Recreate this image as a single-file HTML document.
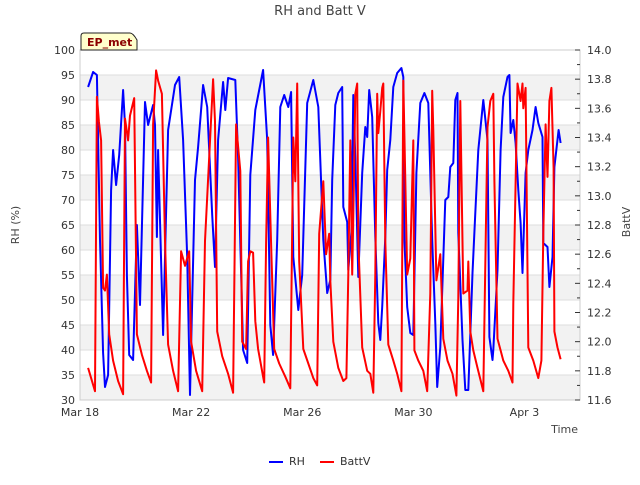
<!DOCTYPE html>
<html><head><meta charset="utf-8"><style>
body{margin:0;background:#fff;}
svg text{font-family:"DejaVu Sans","Liberation Sans",sans-serif;}
</style></head><body>
<svg id="chart" width="640" height="480" xmlns="http://www.w3.org/2000/svg">
<rect width="640" height="480" fill="#fff"/>
<text x="320" y="15" text-anchor="middle" font-size="13" fill="#444">RH and Batt V</text>
<g id="bands"></g>
<g id="grid"></g>
<g id="series"></g>
<rect x="80" y="50" width="500" height="350" fill="none" stroke="#ccc"/>
<g id="axes"></g>
<text transform="translate(19,225) rotate(-90)" text-anchor="middle" font-size="11" fill="#444">RH (%)</text>
<text transform="translate(630,222) rotate(-90)" text-anchor="middle" font-size="11" fill="#444">BattV</text>
<text x="578" y="433" text-anchor="end" font-size="11" fill="#444">Time</text>
<g>
<path d="M81 50 V36 Q81 33 84 33 H130 Q133 33 137 40 V50 Z" fill="#ffffcc" stroke="#222"/>
<text x="87" y="46" font-size="11" font-weight="bold" fill="#8b0000">EP_met</text>
</g>
<g>
<line x1="269" y1="462" x2="283" y2="462" stroke="#0000ff" stroke-width="2"/>
<text x="289" y="465" font-size="11" fill="#333">RH</text>
<line x1="320" y1="462" x2="334" y2="462" stroke="#ff0000" stroke-width="2"/>
<text x="340" y="465" font-size="11" fill="#333">BattV</text>
</g>
</svg>
<script>
const rhDays=[0.29,0.47,0.61,0.72,0.83,0.90,1.01,1.12,1.19,1.30,1.41,1.55,1.62,1.69,1.77,1.91,2.05,2.16,2.34,2.45,2.63,2.70,2.77,2.81,2.99,3.17,3.42,3.57,3.71,3.86,3.96,4.14,4.25,4.43,4.58,4.76,4.86,4.97,5.15,5.23,5.33,5.59,5.69,5.87,6.02,6.13,6.31,6.59,6.74,6.85,6.95,7.10,7.21,7.35,7.50,7.60,7.68,7.86,8.00,8.18,8.40,8.58,8.76,8.90,9.01,9.08,9.19,9.30,9.44,9.48,9.62,9.66,9.77,9.84,9.91,10.02,10.16,10.27,10.34,10.41,10.52,10.63,10.74,10.81,10.88,10.99,11.06,11.17,11.28,11.42,11.57,11.64,11.68,11.78,11.89,12.00,12.11,12.25,12.40,12.54,12.68,12.79,12.86,12.97,13.15,13.26,13.33,13.44,13.51,13.59,13.62,13.77,13.87,13.98,14.13,14.23,14.34,14.52,14.67,14.74,14.85,14.88,15.03,15.14,15.24,15.39,15.46,15.50,15.60,15.68,15.78,15.86,15.93,16.04,16.14,16.29,16.40,16.50,16.65,16.68,16.83,16.90,17.01,17.08,17.23,17.30];
const rhValues=[92.6,95.6,95,62,39.4,32.6,35,72,80,73,79,92,85,55,39,38,65,49,89.6,85,89,85,62.6,80,43,84,93,94.6,82,58.6,31,74,80.6,93,88.6,67,56.6,82,93.6,88,94.4,94,78.6,40,37.4,75,88,96,82,45,39,62,88.6,91,88.6,91.6,58.6,48,55,89.4,94,88.6,62,51.4,54,74,89,91.4,92.6,68.6,65.6,56,63.6,91,78.6,54.6,75.4,84.6,82.6,92,86.6,62.6,45.4,42,48.6,62.6,76,82,92.6,95.4,96.4,94.6,62,48.6,43.4,43,75.4,89.4,91.4,89.4,62,45.4,32.6,40.6,70,70.6,76.6,77.4,90,91.4,63.4,42,32,32,55.4,67.4,80,90,82,42.6,38,40,56,80,90.6,94.6,95,83.4,86,81.4,72,65.4,55.4,75.4,80,84,88.6,85.4,82.6,61.4,60.6,52.6,58.6,76.6,84,81.4];
const bvDays=[0.29,0.54,0.61,0.68,0.76,0.83,0.90,0.97,1.05,1.19,1.37,1.55,1.62,1.73,1.80,1.95,2.05,2.23,2.41,2.56,2.63,2.74,2.81,2.95,3.06,3.17,3.35,3.53,3.64,3.78,3.93,4.00,4.18,4.40,4.50,4.79,4.86,4.94,5.12,5.33,5.51,5.62,5.77,5.84,5.98,6.05,6.13,6.23,6.31,6.41,6.59,6.63,6.70,6.77,6.88,6.99,7.17,7.39,7.57,7.68,7.75,7.82,7.89,8.04,8.22,8.40,8.54,8.61,8.76,8.86,8.97,9.01,9.12,9.30,9.48,9.59,9.66,9.73,9.80,9.84,9.91,9.98,10.02,10.16,10.34,10.45,10.56,10.63,10.70,10.74,10.81,10.88,10.92,10.99,11.10,11.28,11.42,11.57,11.64,11.78,11.89,12.00,12.04,12.18,12.36,12.50,12.61,12.68,12.72,12.83,12.97,13.08,13.23,13.41,13.55,13.62,13.69,13.80,13.95,13.98,14.05,14.16,14.31,14.52,14.67,14.77,14.88,14.92,15.03,15.14,15.24,15.42,15.57,15.60,15.75,15.86,15.93,15.96,16.04,16.14,16.32,16.50,16.61,16.68,16.76,16.83,16.90,16.97,17.05,17.08,17.19,17.30];
const bvValues=[11.82,11.66,13.68,13.51,13.38,12.37,12.35,12.46,12.05,11.87,11.73,11.64,13.53,13.38,13.55,13.67,12.05,11.91,11.80,11.72,13.49,13.86,13.79,13.70,12.69,11.98,11.80,11.66,12.62,12.52,12.62,12.00,11.80,11.66,12.69,13.80,13.51,12.07,11.90,11.78,11.65,13.49,13.17,12.00,11.95,12.55,12.62,12.61,12.14,11.95,11.76,11.72,12.68,13.40,12.67,11.95,11.85,11.76,11.68,13.40,13.10,13.77,12.55,11.95,11.85,11.75,11.70,12.74,13.10,12.60,12.74,12.42,12.00,11.82,11.73,11.75,12.46,13.38,12.46,12.85,13.70,13.77,12.69,11.96,11.80,11.78,11.65,12.46,13.70,13.43,13.58,13.74,13.77,12.69,11.98,11.87,11.78,11.66,13.79,12.46,12.57,13.38,11.94,11.87,11.80,11.66,12.33,13.72,13.45,12.42,12.60,12.02,11.87,11.78,11.63,12.30,13.65,12.33,12.35,12.55,12.07,11.94,11.82,11.66,13.47,13.65,13.70,13.10,12.02,11.94,11.87,11.80,11.72,12.26,13.77,13.65,13.77,13.60,13.74,11.96,11.87,11.75,11.87,12.74,13.49,13.13,13.65,13.74,13.19,12.07,11.96,11.88];
const rhTicks=[30,35,40,45,50,55,60,65,70,75,80,85,90,95,100];
const bvTicks=[11.6,11.8,12.0,12.2,12.4,12.6,12.8,13.0,13.2,13.4,13.6,13.8,14.0];
const xTickDays=[0,4,8,12,16];
const xTickLabels=["Mar 18","Mar 22","Mar 26","Mar 30","Apr 3"];

const NS="http://www.w3.org/2000/svg";
const X0=80,X1=580,Y0=400,Y1=50;
function xs(d){return X0+d*(X1-X0)/18;}
function ys(v){return Y0-(v-30)*(Y0-Y1)/70;}
function ys2(v){return Y0-(v-11.6)*(Y0-Y1)/2.4;}
function mk(tag,attrs,parent){const e=document.createElementNS(NS,tag);for(const k in attrs)e.setAttribute(k,attrs[k]);parent.appendChild(e);return e;}
const bands=document.getElementById('bands'),grid=document.getElementById('grid'),axes=document.getElementById('axes'),series=document.getElementById('series');
for(let i=0;i<rhTicks.length-1;i++){
  const a=rhTicks[i],b=rhTicks[i+1];
  if(i%2===0){const r=mk('rect',{x:X0,y:ys(b),width:X1-X0,height:ys(a)-ys(b),fill:'#f2f2f2'},bands);
  
  }
}
rhTicks.forEach(v=>{
  const l=mk('line',{x1:X0,x2:X1,y1:ys(v),y2:ys(v),stroke:'#ddd'},grid);
  
  
  const t=mk('text',{x:X0-5,y:ys(v)+4,'text-anchor':'end','font-size':'11',fill:'#333'},axes);
  t.textContent=v;
  
  
});
bvTicks.forEach(v=>{
  const t=mk('text',{x:X1+7,y:ys2(v)+4,'font-size':'11',fill:'#333'},axes);
  t.textContent=v.toFixed(1);
  
  
  const tk=mk('line',{x1:X1-5,x2:X1,y1:ys2(v),y2:ys2(v),stroke:'#333'},axes);
  
  
});
for(let i=0;i<bvTicks.length-1;i++){
  const m=(bvTicks[i]+bvTicks[i+1])/2;
  const tk=mk('line',{x1:X1-3,x2:X1,y1:ys2(m),y2:ys2(m),stroke:'#333'},axes);
  
  
}
xTickDays.forEach((d,i)=>{
  const t=mk('text',{x:xs(d),y:416,'text-anchor':'middle','font-size':'11',fill:'#333'},axes);
  t.textContent=xTickLabels[i];
  
  
});
const rp=mk('polyline',{points:rhDays.map((d,i)=>xs(d).toFixed(1)+','+ys(rhValues[i]).toFixed(1)).join(' '),fill:'none',stroke:'#0000ff','stroke-width':'2','stroke-linejoin':'round'},series);


const bp=mk('polyline',{points:bvDays.map((d,i)=>xs(d).toFixed(1)+','+ys2(bvValues[i]).toFixed(1)).join(' '),fill:'none',stroke:'#ff0000','stroke-width':'2','stroke-linejoin':'round'},series);


</script>
</body></html>
